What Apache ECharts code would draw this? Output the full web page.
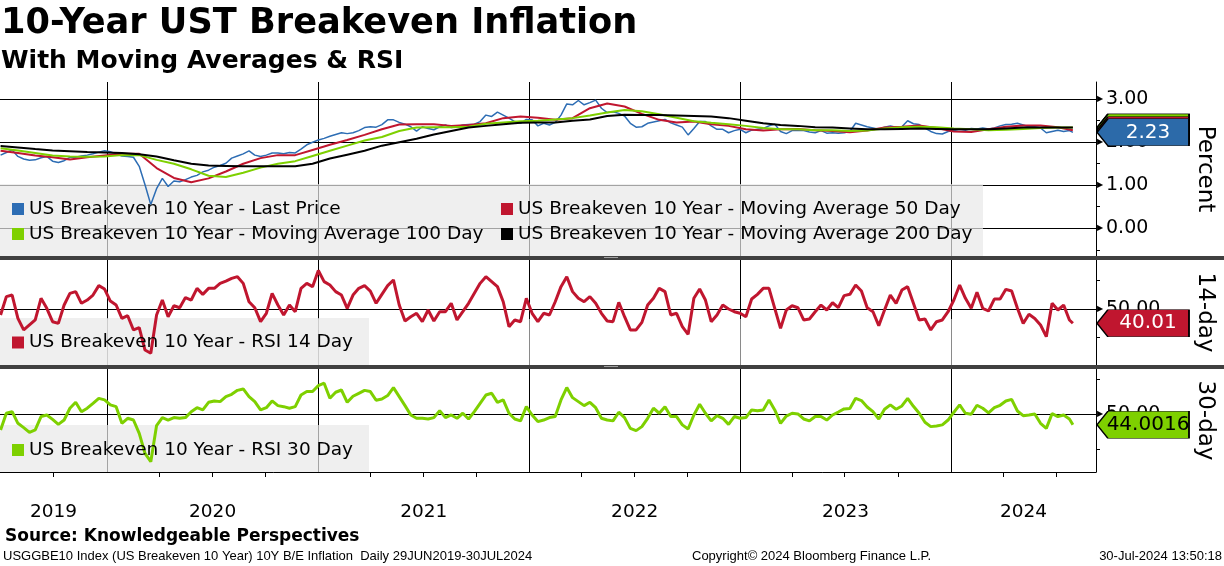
<!DOCTYPE html>
<html><head><meta charset="utf-8">
<script src="https://cdn.jsdelivr.net/npm/echarts@6/dist/echarts.min.js"></script>
<style>html,body{margin:0;padding:0;background:#fff}#c{width:1224px;height:566px}</style>
</head><body><div id="c"></div>
<script>
// ---------------- DATA ----------------
// Daily series sampled every 10 days from 1 Jul 2019, last point = 30 Jul 2024
const sampleStepDays = 10;
const maStepDays = 30;

const priceValues = [
1.70,1.76,1.82,1.67,1.61,1.58,1.59,1.64,1.67,1.56,
1.53,1.57,1.65,1.65,1.68,1.70,1.73,1.77,1.80,1.78,
1.73,1.68,1.67,1.65,1.44,1.01,0.55,0.92,1.16,0.97,
1.10,1.08,1.13,1.19,1.23,1.31,1.35,1.42,1.46,1.51,
1.63,1.68,1.73,1.80,1.70,1.67,1.70,1.75,1.75,1.73,
1.76,1.75,1.84,1.94,2.00,2.05,2.09,2.14,2.18,2.22,
2.20,2.22,2.27,2.34,2.36,2.35,2.41,2.52,2.52,2.46,
2.42,2.36,2.26,2.36,2.32,2.29,2.36,2.40,2.34,2.36,
2.40,2.41,2.42,2.48,2.63,2.60,2.70,2.63,2.56,2.48,
2.44,2.53,2.52,2.38,2.44,2.40,2.46,2.63,2.89,2.87,
2.97,2.87,2.92,2.98,2.79,2.69,2.71,2.67,2.61,2.44,
2.35,2.36,2.44,2.47,2.50,2.53,2.45,2.40,2.35,2.17,
2.32,2.48,2.48,2.38,2.30,2.30,2.22,2.27,2.30,2.22,
2.28,2.30,2.32,2.38,2.42,2.25,2.20,2.27,2.27,2.27,
2.24,2.22,2.27,2.21,2.22,2.21,2.22,2.25,2.44,2.40,
2.36,2.33,2.30,2.35,2.38,2.35,2.36,2.50,2.43,2.41,
2.33,2.25,2.20,2.19,2.25,2.27,2.30,2.28,2.32,2.31,
2.33,2.31,2.33,2.38,2.41,2.42,2.44,2.40,2.36,2.36,
2.33,2.22,2.25,2.28,2.25,2.27,
2.23];

const ma50Values = [
1.80,1.75,1.69,1.65,1.60,1.65,1.69,1.73,1.73,1.40,
1.17,1.07,1.16,1.32,1.50,1.63,1.70,1.70,1.82,1.94,
2.05,2.17,2.30,2.41,2.42,2.42,2.38,2.40,2.44,2.56,
2.60,2.57,2.52,2.56,2.79,2.90,2.83,2.66,2.52,2.46,
2.48,2.42,2.38,2.30,2.27,2.30,2.31,2.28,2.26,2.23,
2.27,2.34,2.36,2.39,2.33,2.25,2.24,2.30,2.36,2.39,
2.39,2.35,
2.28];

const ma100Values = [
1.86,1.81,1.75,1.69,1.67,1.66,1.67,1.70,1.70,1.59,
1.50,1.37,1.22,1.19,1.29,1.41,1.50,1.56,1.68,1.80,
1.92,2.04,2.12,2.26,2.34,2.35,2.35,2.36,2.43,2.46,
2.49,2.50,2.53,2.56,2.62,2.69,2.75,2.72,2.65,2.57,
2.49,2.45,2.42,2.38,2.33,2.30,2.30,2.28,2.28,2.26,
2.27,2.32,2.35,2.36,2.35,2.32,2.30,2.28,2.29,2.31,
2.33,2.34,
2.34];

const ma200Values = [
1.91,1.88,1.84,1.81,1.79,1.77,1.76,1.75,1.72,1.67,
1.58,1.50,1.46,1.45,1.44,1.44,1.44,1.44,1.50,1.62,
1.71,1.80,1.92,2.00,2.08,2.18,2.26,2.34,2.38,2.42,
2.45,2.46,2.46,2.50,2.53,2.61,2.64,2.63,2.63,2.62,
2.61,2.60,2.56,2.50,2.44,2.40,2.38,2.35,2.34,2.32,
2.30,2.30,2.31,2.32,2.31,2.30,2.30,2.30,2.32,2.34,
2.34,2.34,
2.34];

const rsi14Values = [
45.8,58.7,59.8,43.4,35.3,38.8,42.3,57.5,50.5,41.1,
39.9,52.8,61.0,62.2,54.0,56.3,59.8,66.4,64.0,55.6,
52.8,43.4,45.3,35.3,36.9,21.2,18.9,45.8,56.3,44.6,
52.3,50.9,58.0,56.3,64.5,60.3,64.5,64.5,68.0,69.6,
71.5,72.7,68.0,55.1,50.9,41.1,47.0,61.0,52.8,45.8,
52.8,48.1,64.5,68.0,65.7,77.0,69.2,66.8,62.2,59.8,
50.5,59.8,64.5,66.4,62.6,54.0,60.3,66.4,70.4,52.8,
41.6,44.6,47.0,41.1,49.3,41.6,48.1,48.1,54.0,42.3,
48.1,54.0,61.0,68.0,72.7,69.2,65.7,55.1,37.6,42.3,
41.1,57.5,47.0,41.1,47.0,45.8,55.1,65.7,72.7,62.2,
57.5,55.1,58.7,54.0,47.0,41.6,41.1,54.7,44.6,35.3,
35.3,40.6,52.8,57.5,64.5,62.2,45.8,47.0,37.6,32.2,
57.5,64.0,56.3,41.1,45.8,52.8,50.0,48.1,47.0,44.6,
57.0,60.3,64.5,64.5,50.5,36.4,49.3,52.3,50.9,42.3,
43.0,48.1,52.8,49.3,54.4,50.9,59.4,60.3,66.8,62.6,
50.9,48.1,38.3,49.3,59.8,54.0,63.3,65.7,54.0,42.3,
43.0,35.3,41.1,42.3,48.1,56.3,66.8,57.5,50.5,61.7,
50.5,48.6,57.0,57.0,63.8,62.6,50.5,39.9,46.3,43.4,
38.8,30.6,54.0,49.3,52.8,42.3,
40.01];

const rsi30Values = [
41.0,50.6,51.5,44.8,42.3,39.6,41.0,48.7,49.6,47.1,
44.2,46.7,53.5,56.9,51.5,53.5,56.3,59.2,58.3,55.4,
54.4,44.8,47.7,46.7,39.0,27.5,22.7,43.5,48.1,46.7,
48.1,47.7,48.1,51.5,53.8,52.5,56.9,57.7,57.3,60.2,
61.5,63.8,64.6,60.2,57.3,52.5,53.8,57.7,55.0,54.4,
53.5,54.4,61.1,63.1,63.1,66.5,67.9,59.2,62.7,64.0,
56.9,60.4,62.1,63.8,63.1,58.1,58.8,60.8,65.4,60.2,
55.0,49.6,47.7,47.7,47.3,48.1,52.1,48.1,49.6,47.7,
50.6,47.3,51.5,56.3,61.1,62.1,56.9,58.3,50.6,47.3,
46.2,54.4,49.6,45.8,46.7,48.1,48.7,58.3,65.4,59.6,
57.3,55.0,56.9,53.8,47.7,46.7,46.2,51.2,48.1,41.9,
40.6,42.9,47.7,53.5,50.6,54.4,48.7,48.7,43.9,41.5,
49.6,55.8,50.6,46.2,49.2,47.7,44.2,48.7,47.7,48.1,
52.5,52.1,52.5,58.3,52.5,44.8,49.0,50.6,50.2,47.3,
46.2,48.7,48.7,46.7,49.6,51.3,53.1,53.3,59.2,57.9,
54.2,51.5,47.3,52.9,55.4,52.9,54.8,59.2,54.6,50.6,
45.4,42.9,43.3,43.9,46.7,51.2,55.4,50.6,50.0,55.2,
53.5,50.8,53.8,55.2,57.7,58.6,51.9,49.2,49.6,50.2,
44.8,41.9,50.4,48.7,49.6,47.3,
44.0016];

const lastLabels = { price: '2.23', rsi14: '40.01', rsi30: '44.0016' };
const yearLabels = ['2019','2020','2021','2022','2023','2024'];
const priceTicks = [0, 1, 2, 3];
const priceMinorTicks = [-0.5, 0.5, 1.5, 2.5];
const seriesNames = {
  price: 'US Breakeven 10 Year - Last Price',
  ma50: 'US Breakeven 10 Year - Moving Average 50 Day',
  ma100: 'US Breakeven 10 Year - Moving Average 100 Day',
  ma200: 'US Breakeven 10 Year - Moving Average 200 Day',
  rsi14: 'US Breakeven 10 Year - RSI 14 Day',
  rsi30: 'US Breakeven 10 Year - RSI 30 Day'
};

// ---------------- helpers ----------------
const endDate = new Date(2024, 6, 30).getTime();
function buildDates(n, step) {
  const out = [];
  for (let i = 0; i < n - 1; i++) out.push(new Date(2019, 6, 1 + i * step).getTime());
  out.push(endDate);
  return out;
}
function zip(d, v) { return v.map((y, i) => [d[i], y]); }
const sDates = buildDates(priceValues.length, sampleStepDays);
const mDates = buildDates(ma50Values.length, maStepDays);

const xMin = new Date(2019, 5, 30).getTime();
const xMax = new Date(2024, 8, 8).getTime();
const yearStarts = [2020, 2021, 2022, 2023, 2024].map(y => new Date(y, 0, 1).getTime());
const quarterTicks = [];
for (let y = 2019; y <= 2024; y++) for (const m of [3, 6, 9]) {
  const t = new Date(y, m, 1).getTime();
  if (t > xMin + 5 * 86400000 && t < xMax) quarterTicks.push(t);
}
const yearMids = yearLabels.map(s => {
  const y = +s;
  const a = Math.max(new Date(y, 0, 1).getTime(), xMin);
  const b = Math.min(new Date(y + 1, 0, 1).getTime(), xMax);
  return (a + b) / 2;
});

const FONT = 'DejaVu Sans';
const BLUE = '#2d6db4', RED = '#c0162f', GREEN = '#7ed000', BLACK = '#000000';
const boxPath = 'path://M0,13.5L11,0L93,0L93,27L11,27Z';

function lastMark(val, label, fill, textColor, z, showLabel) {
  return {
    silent: true, z: z,
    symbol: boxPath, symbolSize: [92, 27], symbolKeepAspect: false, symbolOffset: [47, 0],
    itemStyle: { color: fill, borderColor: '#000', borderWidth: 1 },
    label: { show: showLabel, position: 'inside', offset: [5, 0], formatter: label,
             color: textColor, fontSize: 20, fontFamily: FONT },
    data: [{ coord: [xMax, val], value: val }]
  };
}
const last = a => a[a.length - 1];

const arrowLabel = (v, txt) => '{t|▶}{v|' + txt + '}';
const richArrow = { t: { fontSize: 8, color: '#000', padding: [0, 3, 0, 0] },
                    v: { fontSize: 19, color: '#000', fontFamily: FONT } };

function xAxisBase(grid) {
  return { type: 'value', gridIndex: grid, min: xMin, max: xMax, scale: true,
    axisLine: { show: false }, axisTick: { show: false, customValues: yearStarts },
    axisLabel: { show: false }, splitLine: { show: true, lineStyle: { color: '#000', width: 1 } },
    axisPointer: { show: false } };
}
function yMain(grid, min, max, ticks, labelFmt, name) {
  return { type: 'value', gridIndex: grid, position: 'right', min: min, max: max,
    axisLine: { show: true, lineStyle: { color: '#000', width: 1 } },
    axisTick: { show: false, customValues: ticks },
    axisLabel: { show: true, customValues: ticks, margin: 1, formatter: labelFmt, rich: richArrow },
    splitLine: { show: true, lineStyle: { color: '#000', width: 1 } },
    name: name, nameLocation: 'middle', nameRotate: -90, nameGap: 97,
    nameTextStyle: { fontSize: 23, fontFamily: FONT, color: '#000' } };
}
function yMinor(grid, min, max, ticks) {
  return { type: 'value', gridIndex: grid, position: 'right', min: min, max: max,
    axisLine: { show: false },
    axisTick: { show: true, length: 4, customValues: ticks, lineStyle: { color: '#000' } },
    axisLabel: { show: false }, splitLine: { show: false } };
}
const legendText = { fontFamily: FONT, fontSize: 18.5, color: '#000', lineHeight: 21 };
function legend(data, left, top) {
  return { data: data, orient: 'vertical', left: left, top: top, padding: 0,
    itemWidth: 12, itemHeight: 12, itemGap: 4, icon: 'rect', selectedMode: false,
    textStyle: legendText, z: 6 };
}
const lineSeries = (name, d, v, color, width, xi, yi, extra) => Object.assign({
  type: 'line', name: name, data: zip(d, v), xAxisIndex: xi, yAxisIndex: yi,
  symbol: 'none', showSymbol: false, clip: false,
  lineStyle: { color: color, width: width }, itemStyle: { color: color }
}, extra || {});

const footStyle = { fontFamily: 'Liberation Sans', fontSize: 13, color: '#000', fontWeight: 'normal', lineHeight: 15 };

const option = {
  animation: false,
  backgroundColor: '#ffffff',
  title: [
    { text: '10-Year UST Breakeven Inflation', left: 1, top: 4, padding: 0,
      textStyle: { fontFamily: FONT, fontWeight: 'bold', fontSize: 35.2, color: '#000', lineHeight: 40 } },
    { text: 'With Moving Averages & RSI', left: 1, top: 47, padding: 0,
      textStyle: { fontFamily: FONT, fontWeight: 'bold', fontSize: 25, color: '#000', lineHeight: 28 } },
    { text: 'Source: Knowledgeable Perspectives', left: 5, top: 527, padding: 0,
      textStyle: { fontFamily: FONT, fontWeight: 'bold', fontSize: 17, color: '#000', lineHeight: 20 } },
    { text: 'USGGBE10 Index (US Breakeven 10 Year) 10Y B/E Inflation  Daily 29JUN2019-30JUL2024', left: 3, top: 549, padding: 0, textStyle: footStyle },
    { text: 'Copyright© 2024 Bloomberg Finance L.P.', left: 692, top: 549, padding: 0, textStyle: footStyle },
    { text: '30-Jul-2024 13:50:18', right: 2, top: 549, padding: 0, textStyle: footStyle }
  ],
  grid: [
    { left: 0, right: 124, top: 82, height: 174 },
    { left: 0, right: 124, top: 260, height: 105 },
    { left: 0, right: 124, top: 369, height: 103 }
  ],
  xAxis: [
    xAxisBase(0),
    xAxisBase(1),
    { type: 'value', gridIndex: 2, min: xMin, max: xMax, scale: true,
      axisLine: { show: true, lineStyle: { color: '#000', width: 1 } },
      axisTick: { show: true, length: 5, customValues: quarterTicks, lineStyle: { color: '#000' } },
      axisLabel: { show: true, customValues: yearMids, margin: 31, color: '#000', fontSize: 18.5, fontFamily: FONT,
                   formatter: v => String(new Date(v).getFullYear()) },
      splitLine: { show: false } },
    Object.assign(xAxisBase(2), { axisTick: { show: true, length: 50, customValues: yearStarts, lineStyle: { color: '#8a8a8a' } } })
  ],
  yAxis: [
    yMain(0, -0.645, 3.40, priceTicks, v => arrowLabel(v, v.toFixed(2)), 'Percent'),
    yMinor(0, -0.645, 3.40, priceMinorTicks),
    yMain(1, 10.7, 84.4, [50], v => arrowLabel(v, v.toFixed(2)), '14-day'),
    yMinor(1, 10.7, 84.4, [10, 30, 70]),
    yMain(2, 16.75, 76.1, [50], v => arrowLabel(v, v.toFixed(2)), '30-day'),
    yMinor(2, 16.75, 76.1, [30, 70])
  ],
  legend: [
    legend([seriesNames.price, seriesNames.ma100], 12, 198.5),
    legend([seriesNames.ma50, seriesNames.ma200], 501, 198.5),
    legend([seriesNames.rsi14], 12, 332),
    legend([seriesNames.rsi30], 12, 439.5)
  ],
  graphic: [
    { type: 'rect', z: 3, silent: true, shape: { x: 0, y: 184, width: 983, height: 72 }, style: { fill: 'rgba(232,232,232,0.7)' } },
    { type: 'rect', z: 3, silent: true, shape: { x: 0, y: 318, width: 369, height: 47 }, style: { fill: 'rgba(232,232,232,0.7)' } },
    { type: 'rect', z: 3, silent: true, shape: { x: 0, y: 425, width: 369, height: 47 }, style: { fill: 'rgba(232,232,232,0.7)' } },
    { type: 'rect', z: 20, silent: true, shape: { x: 0, y: 256, width: 1224, height: 4 }, style: { fill: '#404040' } },
    { type: 'rect', z: 20, silent: true, shape: { x: 0, y: 365, width: 1224, height: 4 }, style: { fill: '#404040' } },
    { type: 'line', z: 21, silent: true, shape: { x1: 604, y1: 257.5, x2: 618, y2: 257.5 }, style: { stroke: '#a0a0a0', lineWidth: 1 } },
    { type: 'line', z: 21, silent: true, shape: { x1: 604, y1: 366.5, x2: 618, y2: 366.5 }, style: { stroke: '#a0a0a0', lineWidth: 1 } }
  ],
  series: [
    lineSeries(seriesNames.price, sDates, priceValues, BLUE, 1.5, 0, 0,
      { markPoint: lastMark(last(priceValues), lastLabels.price, '#2c6aa9', '#fff', 10, true) }),
    lineSeries(seriesNames.ma50, mDates, ma50Values, RED, 2, 0, 0,
      { markPoint: lastMark(last(ma50Values), '', RED, '#fff', 8, false) }),
    lineSeries(seriesNames.ma100, mDates, ma100Values, GREEN, 2, 0, 0,
      { markPoint: lastMark(last(ma100Values), '', GREEN, '#000', 7, false) }),
    lineSeries(seriesNames.ma200, mDates, ma200Values, BLACK, 2, 0, 0,
      { markPoint: lastMark(last(ma200Values), '', BLACK, '#fff', 6, false) }),
    lineSeries(seriesNames.rsi14, sDates, rsi14Values, RED, 3, 1, 2,
      { markPoint: lastMark(last(rsi14Values), lastLabels.rsi14, RED, '#fff', 10, true) }),
    lineSeries(seriesNames.rsi30, sDates, rsi30Values, GREEN, 3, 3, 4,
      { markPoint: lastMark(last(rsi30Values), lastLabels.rsi30, GREEN, '#000', 10, true) })
  ]
};

const chart = echarts.init(document.getElementById('c'), null, { renderer: 'canvas' });
chart.setOption(option);
</script>
</body></html>
